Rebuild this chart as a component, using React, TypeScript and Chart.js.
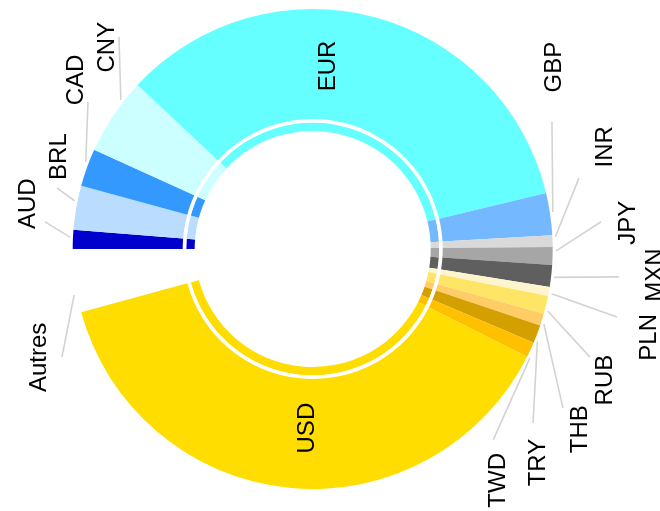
import React, { useEffect, useRef } from "react";
import { Chart, registerables } from "chart.js";

Chart.register(...registerables);

// ---- data ----
const categories = [
  "AUD", "BRL", "CAD", "CNY", "EUR", "GBP", "INR", "JPY",
  "MXN", "PLN", "RUB", "THB", "TRY", "TWD", "USD", "Autres",
];
const shares = [
  1.28, 2.97, 2.53, 5.19, 34.28, 2.83, 0.78, 1.19,
  1.47, 0.61, 1.22, 0.81, 1.22, 1.03, 38.33, 4.25,
];
const colors = [
  "#0000cc", "#b9dcff", "#3399ff", "#ccffff", "#66ffff", "#74b9ff", "#d9d9d9", "#a6a6a6",
  "#5f5f5f", "#fff5cc", "#ffe566", "#ffcc66", "#d4a000", "#ffc000", "#ffdd00", "rgba(0,0,0,0)",
];

// ---- label layout (polar, canvas degrees; radius as fraction of outer radius) ----
const textAngles = [
  189.0, 199.9, 215.3, 224.3, 274.4, 322.8, 340.6, 355.2,
  4.4, 14.8, 24.3, 34.1, 43.6, 51.6, 92.4, 158.5,
];
const textRadii = [
  1.2075, 1.131, 1.219, 1.204, 0.765, 1.254, 1.282, 1.31,
  1.422, 1.441, 1.327, 1.339, 1.29, 1.23, 0.747, 1.2325,
];
// shift of the leader start from the slice's middle angle (degrees)
const lineStartShift = [
  0.5, 1.5, 1.1, 4.1, 0, -0.4, -1.0, -1.15,
  0.25, 0.4, 1.3, 0.85, 1.6, 1.85, 0, -3.3,
];
const lineEndAngles: (number | null)[] = [
  185.8, 193.4, 213.2, 227.6, null, 332.0, 345.1, 354.6,
  5.2, 12.6, 21.3, 32.4, 38.3, 46.6, null, 156.7,
];
const lineEndRadii: (number | null)[] = [
  1.121, 1.095, 1.119, 1.197, null, 1.129, 1.148, 1.207,
  1.282, 1.299, 1.24, 1.235, 1.17, 1.095, null, 1.1375,
];

const FONT_SIZE = 24;

const labelPlugin = {
  id: "sliceLabels",
  afterDatasetsDraw(chart: any) {
    const meta = chart.getDatasetMeta(0);
    const ctx: CanvasRenderingContext2D = chart.ctx;
    const first: any = meta.data[0];
    if (!first) return;
    const cx = first.x;
    const cy = first.y;
    const R = first.outerRadius;
    const rad = (d: number) => (d * Math.PI) / 180;
    ctx.save();
    categories.forEach((name, i) => {
      const arc: any = meta.data[i];
      const mid = (arc.startAngle + arc.endAngle) / 2 + rad(lineStartShift[i]);
      const la = lineEndAngles[i];
      const lr = lineEndRadii[i];
      if (la !== null && lr !== null) {
        ctx.beginPath();
        ctx.strokeStyle = "#d3d3d3";
        ctx.lineWidth = 1.6;
        ctx.moveTo(cx + Math.cos(mid) * (R + 3), cy + Math.sin(mid) * (R + 3));
        ctx.lineTo(cx + Math.cos(rad(la)) * lr * R, cy + Math.sin(rad(la)) * lr * R);
        ctx.stroke();
      }
      const tx = cx + Math.cos(rad(textAngles[i])) * textRadii[i] * R;
      const ty = cy + Math.sin(rad(textAngles[i])) * textRadii[i] * R;
      ctx.save();
      ctx.translate(tx, ty);
      ctx.rotate(-Math.PI / 2);
      ctx.font = `${FONT_SIZE}px "Liberation Sans", Arial, sans-serif`;
      ctx.fillStyle = "#000000";
      ctx.textAlign = "center";
      ctx.textBaseline = "alphabetic";
      ctx.fillText(name, 0, FONT_SIZE * 0.716 / 2);
      ctx.restore();
    });
    ctx.restore();
  },
};

export default function App() {
  const ref = useRef<HTMLCanvasElement | null>(null);

  useEffect(() => {
    if (!ref.current) return;
    const chart = new Chart(ref.current, {
      type: "doughnut",
      data: {
        labels: categories,
        datasets: [
          {
            data: shares,
            backgroundColor: colors,
            borderWidth: 0,
            weight: 110,
          } as any,
          {
            data: [1],
            backgroundColor: ["#ffffff"],
            borderWidth: 0,
            weight: 3.5,
          } as any,
          {
            data: shares,
            backgroundColor: colors,
            borderWidth: 0,
            weight: 8.5,
          } as any,
        ],
      },
      options: {
        responsive: false,
        animation: false,
        events: [],
        rotation: 270,
        cutout: 118,
        layout: {
          padding: { left: 72.7, top: 9, right: 107.3, bottom: 22 },
        },
        plugins: {
          legend: { display: false },
          tooltip: { enabled: false },
        },
      } as any,
      plugins: [labelPlugin],
    });
    return () => chart.destroy();
  }, []);

  return (
    <div style={{ position: "fixed", left: 0, top: 0, width: 660, height: 511, background: "#ffffff" }}>
      <canvas ref={ref} width={660} height={511} style={{ width: 660, height: 511, display: "block" }} />
    </div>
  );
}
